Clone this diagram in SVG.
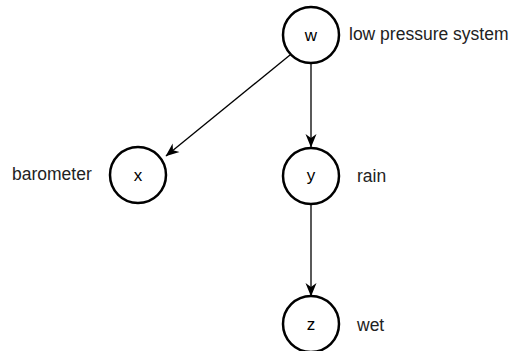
<svg xmlns="http://www.w3.org/2000/svg" width="518" height="351" viewBox="0 0 518 351">
<style>
.node circle{fill:#fff;stroke:#000;stroke-width:2.5}
.var{font-family:"Liberation Sans",Arial,sans-serif;font-size:17px;text-anchor:middle;fill:#000}
.lab{font-family:"Liberation Sans",Arial,sans-serif;font-size:17.5px;fill:#222}
.edge{stroke:#000;stroke-width:1.3;fill:none;marker-end:url(#arr)}
</style>
<defs>
<marker id="arr" markerWidth="14" markerHeight="12" refX="13" refY="6" orient="auto" markerUnits="userSpaceOnUse">
<path d="M0,0.5 L13.5,6 L0,11.5 L4,6 Z" fill="#000"/>
</marker>
</defs>
<rect width="518" height="351" fill="#fff"/>
<g id="connectors">
<line class="edge" x1="290" y1="55" x2="166" y2="156"/>
<line class="edge" x1="311" y1="64" x2="311" y2="147"/>
<line class="edge" x1="311" y1="205" x2="311" y2="296"/>
</g>
<g id="node-w" class="node">
<circle cx="311" cy="35" r="28"/>
<text class="var" x="311" y="41">w</text>
<text class="lab" x="349" y="40">low pressure system</text>
</g>
<g id="node-x" class="node">
<circle cx="138" cy="175" r="28"/>
<text class="var" x="138" y="181">x</text>
<text class="lab" x="12" y="180">barometer</text>
</g>
<g id="node-y" class="node">
<circle cx="311" cy="176" r="28"/>
<text class="var" x="311" y="181">y</text>
<text class="lab" x="357" y="182">rain</text>
</g>
<g id="node-z" class="node">
<circle cx="311" cy="324" r="28"/>
<text class="var" x="311" y="330">z</text>
<text class="lab" x="357" y="331">wet</text>
</g>
</svg>
